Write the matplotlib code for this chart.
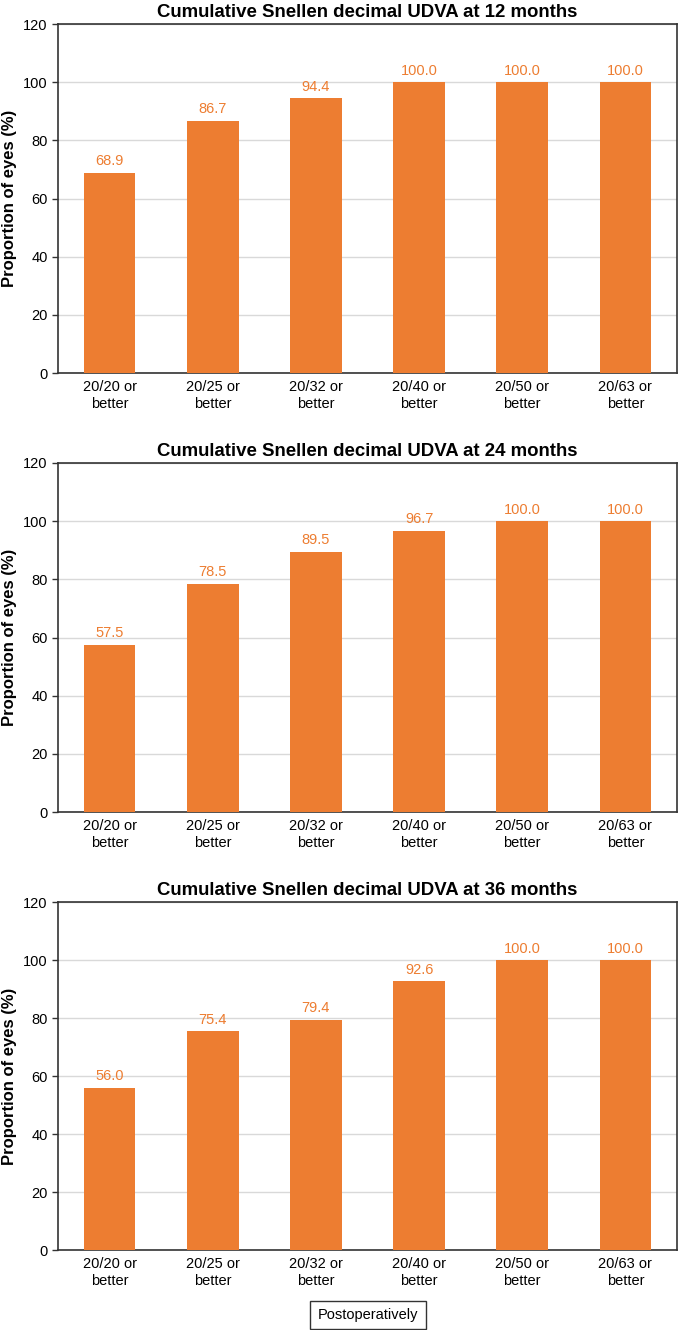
import matplotlib
matplotlib.use("Agg")
import matplotlib.pyplot as plt
import numpy as np

categories = ["20/20 or\nbetter", "20/25 or\nbetter", "20/32 or\nbetter",
              "20/40 or\nbetter", "20/50 or\nbetter", "20/63 or\nbetter"]
months = [12, 24, 36]
udva_12 = [68.9, 86.7, 94.4, 100.0, 100.0, 100.0]
udva_24 = [57.5, 78.5, 89.5, 96.7, 100.0, 100.0]
udva_36 = [56.0, 75.4, 79.4, 92.6, 100.0, 100.0]
series = [udva_12, udva_24, udva_36]

orange = "#ED7D31"
plt.rcParams["font.family"] = ["Liberation Sans", "DejaVu Sans"]

fig = plt.figure(figsize=(6.79, 13.3), dpi=100, facecolor="white")
W, H = 679, 1330
boxes = [(24, 373), (463, 812), (902, 1250)]
left, right = 58, 677

x = np.arange(len(categories))
for (top, bot), m, vals in zip(boxes, months, series):
    ax = fig.add_axes([left / W, 1 - bot / H, (right - left) / W, (bot - top) / H])
    ax.bar(x, vals, width=0.5, color=orange, zorder=3)
    for xi, v in zip(x, vals):
        ax.text(xi, v + 1.5, f"{v:.1f}", ha="center", va="bottom",
                color=orange, fontsize=10.5)
    ax.set_xlim(-0.5, len(categories) - 0.5)
    ax.set_ylim(0, 120)
    ax.set_yticks(range(0, 121, 20))
    ax.set_xticks(x)
    ax.set_xticklabels(categories, fontsize=10.5, linespacing=1.25)
    ax.tick_params(axis="x", length=0, pad=5)
    ax.tick_params(axis="y", labelsize=10.5, length=4, width=1, color="#333333")
    ax.grid(axis="y", color="#d9d9d9", linewidth=1, zorder=0)
    for s in ax.spines.values():
        s.set_color("#333333")
        s.set_linewidth(1.2)
    ax.set_title(f"Cumulative Snellen decimal UDVA at {m} months",
                 fontsize=13.4, fontweight="bold", pad=5)
    fig.text(10 / W, 1 - (top + bot) / 2 / H, "Proportion of eyes (%)",
             rotation=90, ha="center", va="center", fontsize=12, fontweight="bold")

fig.text(368 / W, 1 - 1315 / H, "Postoperatively", ha="center", va="center",
         fontsize=10.5,
         bbox=dict(boxstyle="square,pad=0.5", facecolor="white",
                   edgecolor="#333333", linewidth=1))

fig.savefig("out.png", dpi=100)
